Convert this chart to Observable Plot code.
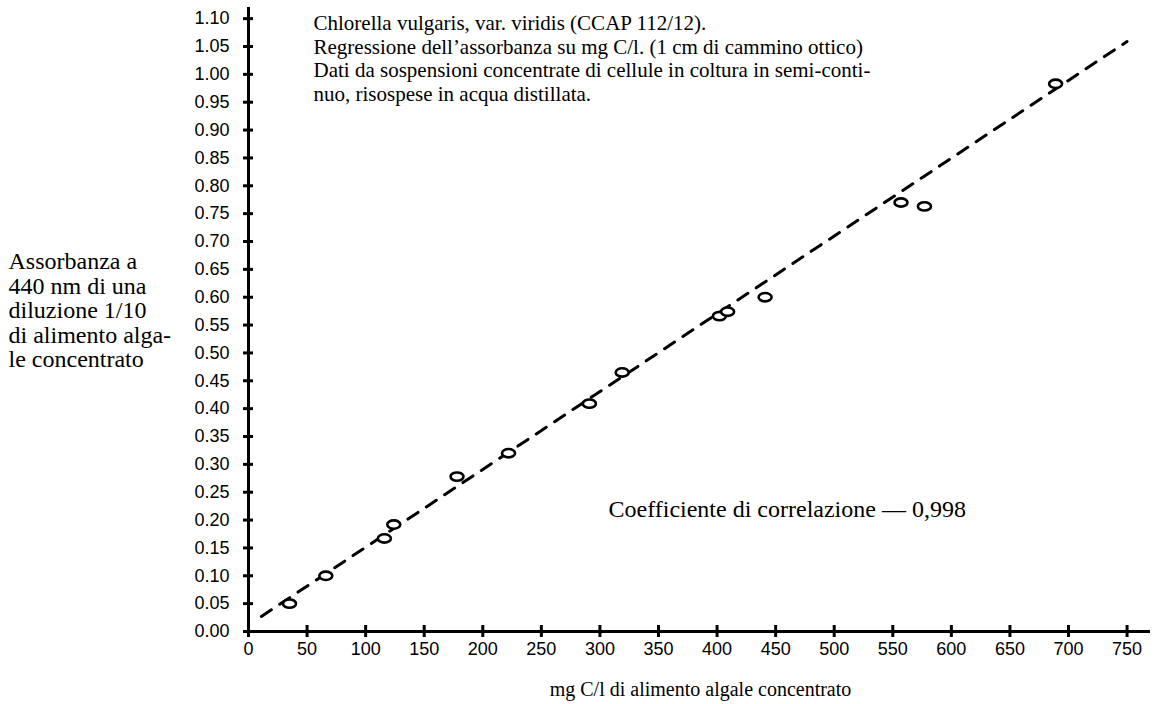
<!DOCTYPE html>
<html>
<head>
<meta charset="utf-8">
<script src="https://cdn.jsdelivr.net/npm/d3@7"></script>
<script src="https://cdn.jsdelivr.net/npm/@observablehq/plot@0.6"></script>
<style>
  html, body { margin: 0; padding: 0; background: #fff; }
  #chart { width: 1155px; height: 704px; }
</style>
</head>
<body>
<div id="chart"></div>
<script>
// Data
const carbonMg = [35, 66, 116, 124, 178, 222, 291, 319, 402, 409, 441, 557, 577, 689];
const absorbance = [0.05, 0.10, 0.167, 0.192, 0.278, 0.32, 0.409, 0.465, 0.566, 0.574, 0.60, 0.77, 0.763, 0.983];
// Regression line endpoints (as drawn)
const lineX = [11, 750];
const lineY = [0.027, 1.059];
const xTicks = d3.range(0, 751, 50);
const yTicks = d3.range(0, 23).map(i => +(i * 0.05).toFixed(2));

const titleText = "Chlorella vulgaris, var. viridis (CCAP 112/12).\nRegressione dell\u2019assorbanza su mg C/l. (1 cm di cammino ottico)\nDati da sospensioni concentrate di cellule in coltura in semi-conti-\nnuo, risospese in acqua distillata.";
const yLabelText = "Assorbanza a\n440 nm di una\ndiluzione 1/10\ndi alimento alga-\nle concentrato";
const xLabelText = "mg C/l di alimento algale concentrato";
const corrText = "Coefficiente di correlazione \u2014 0,998";

const points = carbonMg.map((x, i) => ({x, y: absorbance[i]}));
const regLine = lineX.map((x, i) => ({x, y: lineY[i]}));

const serif = "'Liberation Serif', 'DejaVu Serif', serif";

// slightly flattened open-circle marker (as in the scanned figure)
const ellipseSymbol = {
  draw(context, size) {
    const r = Math.sqrt(size / Math.PI);
    const rx = r * 1.25, ry = r * 0.8, k = 0.5523;
    context.moveTo(rx, 0);
    context.bezierCurveTo(rx, ry * k, rx * k, ry, 0, ry);
    context.bezierCurveTo(-rx * k, ry, -rx, ry * k, -rx, 0);
    context.bezierCurveTo(-rx, -ry * k, -rx * k, -ry, 0, -ry);
    context.bezierCurveTo(rx * k, -ry, rx, -ry * k, rx, 0);
    context.closePath();
  }
};

const chart = Plot.plot({
  width: 1155,
  height: 704,
  marginLeft: 248,
  marginRight: 5,
  marginTop: 7,
  marginBottom: 73,
  style: {fontFamily: "'Liberation Sans', Arial, sans-serif", fontSize: "18px", color: "#000", background: "#fff"},
  x: {domain: [0, 770]},
  y: {domain: [0, 1.12]},
  marks: [
    // axis lines
    Plot.ruleY([0], {stroke: "#000", strokeWidth: 3}),
    Plot.ruleX([0], {y1: 0, y2: 1.12, stroke: "#000", strokeWidth: 3}),
    // crossing tick marks
    Plot.axisX({ticks: xTicks, tickSize: 12, dy: -6, tickFormat: () => "", stroke: "#000", strokeWidth: 3, label: null}),
    Plot.axisY({ticks: yTicks, tickSize: 10, dx: 5, tickFormat: () => "", stroke: "#000", strokeWidth: 3, label: null}),
    // tick labels
    Plot.axisX({ticks: xTicks, tickSize: 0, tickPadding: 11, tickFormat: d3.format("d"), fill: "#000", label: null, fontSize: 18}),
    Plot.axisY({ticks: yTicks, tickSize: 0, tickPadding: 19, tickFormat: d3.format(".2f"), fill: "#000", label: null, fontSize: 18}),
    // regression line
    Plot.line(regLine, {x: "x", y: "y", stroke: "#000", strokeWidth: 3, strokeDasharray: "12,10"}),
    // observations
    Plot.dot(points, {x: "x", y: "y", r: 5.2, symbol: ellipseSymbol, stroke: "#000", strokeWidth: 2.6, fill: "#fff"}),
    // annotations
    Plot.text([titleText], {ariaLabel: "title-text", text: d => d, frameAnchor: "top-left", dx: 65, dy: 6, textAnchor: "start", lineAnchor: "top", lineHeight: 1.12, fontSize: 21, fontFamily: serif, fill: "#000"}),
    Plot.text([corrText], {ariaLabel: "corr-text", text: d => d, frameAnchor: "top-left", dx: 360, dy: 502, textAnchor: "start", lineAnchor: "middle", fontSize: 24, fontFamily: serif, fill: "#000"}),
    Plot.text([yLabelText], {ariaLabel: "ylabel-text", text: d => d, frameAnchor: "left", dx: -240, dy: -9, textAnchor: "start", lineAnchor: "middle", lineHeight: 1.02, fontSize: 24, fontFamily: serif, fill: "#000"}),
    Plot.text([xLabelText], {ariaLabel: "xlabel-text", text: d => d, frameAnchor: "bottom", dx: 1, dy: 58, textAnchor: "middle", lineAnchor: "middle", fontSize: 20, fontFamily: serif, fill: "#000"})
  ]
});
const spacing = {"title-text": 0.35, "xlabel-text": 0.7, "corr-text": 1.3, "ylabel-text": 1.2};
for (const [label, ls] of Object.entries(spacing)) {
  d3.select(chart).selectAll(`g[aria-label="${label}"] text, g[aria-label="${label}"] tspan`).attr("letter-spacing", ls);
}
document.getElementById("chart").appendChild(chart);
</script>
</body>
</html>
